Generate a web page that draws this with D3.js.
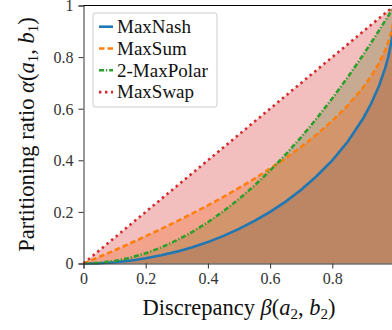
<!DOCTYPE html>
<html>
<head>
<meta charset="utf-8">
<script src="https://cdn.jsdelivr.net/npm/d3@7"></script>
<style>
  body { margin: 0; background: #fff; }
  svg { display: block; }
</style>
</head>
<body>
<svg id="chart" width="392" height="330"></svg>
<script>
// discrepancy beta values (x)
const beta = [0, 0.05, 0.1, 0.15, 0.2, 0.25, 0.3, 0.35, 0.4, 0.45, 0.5, 0.55, 0.6,
  0.65, 0.7, 0.75, 0.8, 0.85, 0.9, 0.925, 0.95, 0.97, 0.98, 0.99, 0.995, 1];

// partitioning ratio alpha for each method
const maxNash = [0, 0.001, 0.005, 0.011, 0.020, 0.032, 0.046, 0.063, 0.083, 0.107, 0.134, 0.165, 0.200,
  0.240, 0.286, 0.339, 0.400, 0.473, 0.564, 0.620, 0.688, 0.757, 0.801, 0.859, 0.900, 1];
const maxSum = [0, 0.025, 0.051, 0.078, 0.106, 0.134, 0.163, 0.194, 0.225, 0.258, 0.293, 0.329, 0.368,
  0.408, 0.452, 0.500, 0.553, 0.613, 0.684, 0.726, 0.776, 0.827, 0.859, 0.900, 0.929, 1];
const maxPolar = [0, 0.0025, 0.01, 0.0225, 0.04, 0.0625, 0.09, 0.1225, 0.16, 0.2025, 0.25, 0.3025, 0.36,
  0.4225, 0.49, 0.5625, 0.64, 0.7225, 0.81, 0.856, 0.9025, 0.941, 0.960, 0.980, 0.990, 1];
const maxSwap = [0, 0.05, 0.1, 0.15, 0.2, 0.25, 0.3, 0.35, 0.4, 0.45, 0.5, 0.55, 0.6,
  0.65, 0.7, 0.75, 0.8, 0.85, 0.9, 0.925, 0.95, 0.97, 0.98, 0.99, 0.995, 1];

const xTicks = [0, 0.2, 0.4, 0.6, 0.8, 1];
const yTicks = [0, 0.2, 0.4, 0.6, 0.8, 1];

const series = [
  { name: "MaxNash", values: maxNash, color: "#1f77b4", dash: null },
  { name: "MaxSum", values: maxSum, color: "#ff7f0e", dash: "5.5,3" },
  { name: "2-MaxPolar", values: maxPolar, color: "#2ca02c", dash: "5,2,1.2,2" },
  { name: "MaxSwap", values: maxSwap, color: "#d62728", dash: "2.4,3.6" },
];
// fills stacked in this order
const fillOrder = ["MaxNash", "2-MaxPolar", "MaxSum", "MaxSwap"];

const svg = d3.select("#chart");
const serif = "'Liberation Serif', 'Times New Roman', serif";
const margin = { left: 83.5, top: 5.5 };
const width = 311, height = 258;

const x = d3.scaleLinear().domain([0, 1]).range([margin.left, margin.left + width]);
const y = d3.scaleLinear().domain([0, 1]).range([margin.top + height, margin.top]);

const area = (vals) => d3.area()
  .x((d, i) => x(beta[i]))
  .y0(y(0))
  .y1((d) => y(d))(vals);
const line = (vals) => d3.line()
  .x((d, i) => x(beta[i]))
  .y((d) => y(d))(vals);

// filled regions
fillOrder.forEach((name) => {
  const s = series.find((d) => d.name === name);
  svg.append("path")
    .attr("d", area(s.values))
    .attr("fill", s.color)
    .attr("fill-opacity", 0.3);
});

// curves
series.forEach((s) => {
  svg.append("path")
    .attr("d", line(s.values))
    .attr("fill", "none")
    .attr("stroke", s.color)
    .attr("stroke-width", 2.6)
    .attr("stroke-dasharray", s.dash);
});

// axes
const fmt = (d) => (d === 0 || d === 1 ? d3.format("d")(d) : d3.format(".1f")(d));
const xAxis = svg.append("g")
  .attr("transform", `translate(0,${y(0)})`)
  .call(d3.axisBottom(x).tickValues(xTicks).tickFormat(fmt).tickSizeOuter(0).tickSize(5).tickPadding(4));
const yAxis = svg.append("g")
  .attr("transform", `translate(${x(0)},0)`)
  .call(d3.axisLeft(y).tickValues(yTicks).tickFormat(fmt).tickSizeOuter(0).tickSize(5).tickPadding(5));

[xAxis, yAxis].forEach((g) => {
  g.select(".domain").attr("stroke", "#333").attr("stroke-width", 1);
  g.selectAll(".tick line").attr("stroke", "#333").attr("stroke-width", 1);
  g.selectAll(".tick text")
    .attr("font-family", serif)
    .attr("font-size", 16)
    .attr("fill", "#333");
});
yAxis.selectAll(".tick text").attr("dy", "0.34em");

// top and right spines
svg.append("line")
  .attr("x1", x(0)).attr("x2", x(1))
  .attr("y1", y(1)).attr("y2", y(1))
  .attr("stroke", "#000");
svg.append("line")
  .attr("x1", x(1)).attr("x2", x(1))
  .attr("y1", y(1)).attr("y2", y(0))
  .attr("stroke", "#000");

// axis label with math parts
function mathLabel(sel, word, sym, a, b, idx) {
  sel.append("tspan").text(word + " ");
  sel.append("tspan").attr("font-style", "italic").text(sym);
  sel.append("tspan").text("(");
  sel.append("tspan").attr("font-style", "italic").text(a);
  sel.append("tspan").attr("font-size", 15).attr("dy", 4).text(idx);
  sel.append("tspan").attr("dy", -4).text(", ");
  sel.append("tspan").attr("font-style", "italic").text(b);
  sel.append("tspan").attr("font-size", 15).attr("dy", 4).text(idx);
  sel.append("tspan").attr("dy", -4).text(")");
}

const xLabel = svg.append("text")
  .attr("x", x(0.5))
  .attr("y", 315)
  .attr("text-anchor", "middle")
  .attr("font-family", serif)
  .attr("font-size", 22.5)
  .attr("fill", "#111");
mathLabel(xLabel, "Discrepancy", "β", "a", "b", "2");

const yLabel = svg.append("text")
  .attr("transform", `translate(34,${y(0.5)}) rotate(-90)`)
  .attr("text-anchor", "middle")
  .attr("font-family", serif)
  .attr("font-size", 22.5)
  .attr("fill", "#111");
mathLabel(yLabel, "Partitioning ratio", "α", "a", "b", "1");

// legend
const legend = svg.append("g").attr("transform", "translate(93,13)");
legend.append("rect")
  .attr("width", 124)
  .attr("height", 94)
  .attr("rx", 2)
  .attr("fill", "#fff")
  .attr("fill-opacity", 0.85)
  .attr("stroke", "#ccc")
  .attr("stroke-width", 1);

const item = legend.selectAll("g.item")
  .data(series)
  .join("g")
  .attr("class", "item")
  .attr("transform", (d, i) => `translate(0,${13.7 + i * 21.8})`);
item.append("line")
  .attr("x1", 6).attr("x2", 20)
  .attr("stroke", (d) => d.color)
  .attr("stroke-width", 2.6)
  .attr("stroke-dasharray", (d) => d.dash);
item.append("text")
  .attr("x", 24)
  .attr("dy", "0.33em")
  .attr("font-family", serif)
  .attr("font-size", 19)
  .attr("fill", "#111")
  .text((d) => d.name);
</script>
</body>
</html>
